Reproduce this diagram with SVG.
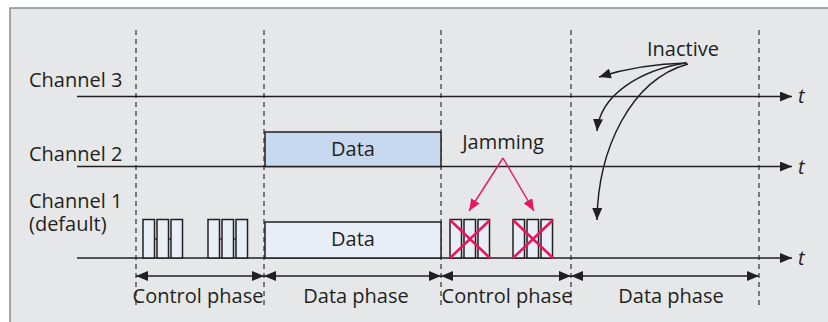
<svg xmlns="http://www.w3.org/2000/svg" width="828" height="322" viewBox="0 0 828 322">
<style>
text{font-family:"Open Sans","Liberation Sans",sans-serif;font-size:20px;fill:#231f20}
.mid{text-anchor:middle}
.t{font-style:italic}
.dash{stroke:#333;stroke-width:1.2;stroke-dasharray:5,4;fill:none}
.axis{stroke:#231f20;stroke-width:1.6;fill:none}
.pk{fill:#e8eef8;stroke:#231f20;stroke-width:1.5}
.jam{stroke:#e8175d;stroke-width:2.6;fill:none}
.jarr{stroke:#e8175d;stroke-width:1.4;fill:none}
.inact{stroke:#231f20;stroke-width:1.5;fill:none}
</style>
<defs>
<marker id="ah" markerWidth="12" markerHeight="10" refX="12" refY="5" orient="auto" markerUnits="userSpaceOnUse"><path d="M0,0 L12,5 L0,10 Z" fill="#231f20"/></marker>
<marker id="as" markerWidth="12" markerHeight="10" refX="0" refY="5" orient="auto" markerUnits="userSpaceOnUse"><path d="M12,0 L0,5 L12,10 Z" fill="#231f20"/></marker>
<marker id="ar" markerWidth="12" markerHeight="10" refX="12" refY="5" orient="auto" markerUnits="userSpaceOnUse"><path d="M0,0 L12,5 L0,10 Z" fill="#e8175d"/></marker>
</defs>
<rect x="10" y="8" width="830" height="330" fill="#e6e7e8" stroke="#8c8c8c" stroke-width="1.5"/>

<g id="dashes">
<line class="dash" x1="136" y1="30" x2="136" y2="307"/>
<line class="dash" x1="264" y1="30" x2="264" y2="307"/>
<line class="dash" x1="441" y1="30" x2="441" y2="307"/>
<line class="dash" x1="571" y1="30" x2="571" y2="307"/>
<line class="dash" x1="759" y1="30" x2="759" y2="307"/>
</g>

<g id="channel3">
<text x="29" y="87">Channel 3</text>
<line class="axis" x1="77" y1="96.5" x2="792" y2="96.5" marker-end="url(#ah)"/>
<text class="t" x="798" y="103">t</text>
</g>
<g id="channel2">
<text x="29" y="161">Channel 2</text>
<line class="axis" x1="77" y1="166.5" x2="792" y2="166.5" marker-end="url(#ah)"/>
<text class="t" x="798" y="174">t</text>
</g>
<g id="channel1">
<text x="29" y="208">Channel 1</text>
<text x="29" y="231">(default)</text>
<line class="axis" x1="77" y1="258" x2="792" y2="258" marker-end="url(#ah)"/>
<text class="t" x="798" y="265">t</text>
</g>

<g id="data2">
<rect x="265" y="132" width="176" height="34.5" fill="#c6d9f0" stroke="#231f20" stroke-width="1.5"/>
<text class="mid" x="353" y="156">Data</text>
</g>
<g id="data1">
<rect x="265" y="222" width="176" height="36" fill="#e8eef8" stroke="#231f20" stroke-width="1.5"/>
<text class="mid" x="353" y="246">Data</text>
</g>

<g id="control1">
<line x1="150" y1="239" x2="176" y2="239" stroke="#231f20" stroke-width="1.2"/>
<line x1="215" y1="239" x2="241" y2="239" stroke="#231f20" stroke-width="1.2"/>
<rect class="pk" x="143" y="219.5" width="11.5" height="38.5"/>
<rect class="pk" x="157" y="219.5" width="11.5" height="38.5"/>
<rect class="pk" x="171" y="219.5" width="11.5" height="38.5"/>
<rect class="pk" x="208" y="219.5" width="11.5" height="38.5"/>
<rect class="pk" x="222" y="219.5" width="11.5" height="38.5"/>
<rect class="pk" x="236" y="219.5" width="11.5" height="38.5"/>
</g>

<g id="jammed">
<rect class="pk" x="450" y="219.5" width="11.5" height="38.5"/>
<rect class="pk" x="464" y="219.5" width="11.5" height="38.5"/>
<rect class="pk" x="478" y="219.5" width="11.5" height="38.5"/>
<rect class="pk" x="513" y="219.5" width="11.5" height="38.5"/>
<rect class="pk" x="527" y="219.5" width="11.5" height="38.5"/>
<rect class="pk" x="541" y="219.5" width="11.5" height="38.5"/>
<path class="jam" d="M450,220 L490,258 M490,220 L450,258 M513,220 L553,258 M553,220 L513,258"/>
</g>

<g id="jamming">
<text class="mid" x="503" y="149">Jamming</text>
</g>
<g id="inactive">
<text class="mid" x="683" y="56">Inactive</text>
</g>

<g id="connectors">
<line class="jarr" x1="503" y1="158" x2="469" y2="211" marker-end="url(#ar)"/>
<line class="jarr" x1="503" y1="158" x2="534" y2="211" marker-end="url(#ar)"/>
<path class="inact" d="M687,63 Q640,64 599,77" marker-end="url(#ah)"/>
<path class="inact" d="M686,63 C640,70 600,95 597,131" marker-end="url(#ah)"/>
<path class="inact" d="M688,64 C630,80 598,150 597,220" marker-end="url(#ah)"/>
<line class="axis" x1="136" y1="276" x2="264" y2="276" marker-start="url(#as)" marker-end="url(#ah)"/>
<line class="axis" x1="264" y1="276" x2="441" y2="276" marker-start="url(#as)" marker-end="url(#ah)"/>
<line class="axis" x1="441" y1="276" x2="571" y2="276" marker-start="url(#as)" marker-end="url(#ah)"/>
<line class="axis" x1="571" y1="276" x2="759" y2="276" marker-start="url(#as)" marker-end="url(#ah)"/>
</g>

<g id="phases">
<text class="mid" x="198" y="303">Control phase</text>
<text class="mid" x="356" y="303">Data phase</text>
<text class="mid" x="507" y="303">Control phase</text>
<text class="mid" x="671" y="303">Data phase</text>
</g>
</svg>
